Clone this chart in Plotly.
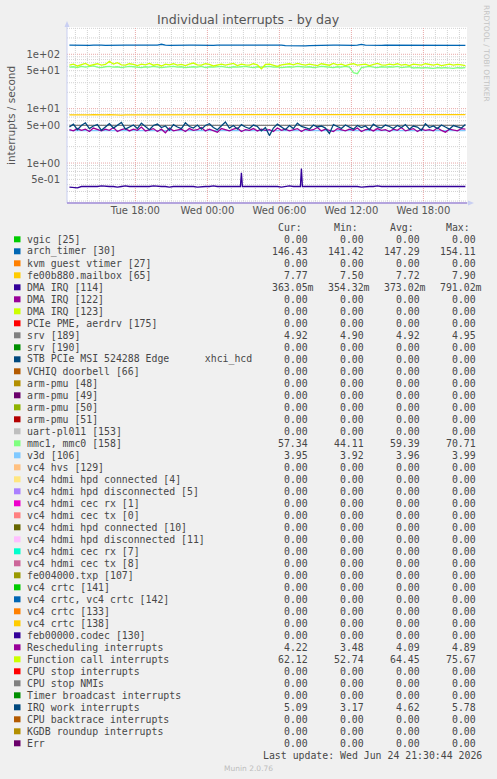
import math
import plotly.graph_objects as go
from datetime import datetime, timedelta

# ---------------- data ----------------
start_time = datetime(2026, 6, 23, 12, 30)
n_points = 100
times = [start_time + timedelta(minutes=20 * i) for i in range(n_points)]

x_range = ["2026-06-23 12:18", "2026-06-24 21:38"]
x_tick_vals = ["2026-06-23 18:00", "2026-06-24 00:00", "2026-06-24 06:00",
               "2026-06-24 12:00", "2026-06-24 18:00"]
x_tick_text = ["Tue 18:00", "Wed 00:00", "Wed 06:00", "Wed 12:00", "Wed 18:00"]

y_tick_vals = [0.5, 1, 5, 10, 50, 100]
y_tick_text = ["5e-01", "1e+00", "5e+00", "1e+01", "5e+01", "1e+02"]

arch_timer = [147, 146, 148, 147, 147, 146, 147, 149, 147, 146,
              147, 148, 147, 146, 147, 147, 148, 146, 147, 147,
              147, 146, 148, 153, 147, 146, 147, 147, 146, 148,
              147, 147, 146, 147, 148, 147, 146, 147, 147, 147,
              148, 147, 146, 147, 147, 149, 147, 146, 147, 147,
              147, 148, 146, 147, 144, 143, 144, 143, 144, 143,
              144, 145, 147, 146, 147, 148, 147, 147, 146, 147,
              147, 146, 147, 152, 147, 146, 147, 147, 146, 147,
              147, 148, 147, 147, 146, 147, 147, 148, 147, 146,
              147, 147, 146, 147, 147, 148, 147, 146, 147, 146]

mailbox = [7.7, 7.8, 7.7, 7.7, 7.6, 7.7, 7.8, 7.7, 7.7, 7.7,
           7.8, 7.7, 7.7, 7.6, 7.7, 7.7, 7.8, 7.7, 7.7, 7.7,
           7.7, 7.8, 7.7, 7.7, 7.7, 7.6, 7.7, 7.7, 7.8, 7.7,
           7.7, 7.7, 7.7, 7.8, 7.7, 7.7, 7.6, 7.7, 7.7, 7.7,
           7.8, 7.7, 7.7, 7.7, 7.7, 7.7, 7.8, 7.7, 7.6, 7.7,
           7.7, 7.7, 7.8, 7.7, 7.7, 7.7, 7.7, 7.6, 7.7, 7.8,
           7.7, 7.7, 7.7, 7.7, 7.8, 7.7, 7.7, 7.6, 7.7, 7.7,
           7.7, 7.8, 7.7, 7.7, 7.7, 7.7, 7.8, 7.7, 7.7, 7.7,
           7.8, 7.7, 7.7, 7.7, 7.8, 7.7, 7.7, 7.7, 7.8, 7.7,
           7.7, 7.8, 7.7, 7.7, 7.8, 7.7, 7.8, 7.8, 7.7, 7.8]

dma_114 = [0.36, 0.36, 0.35, 0.37, 0.37, 0.36, 0.37, 0.37, 0.38, 0.37,
           0.37, 0.37, 0.36, 0.37, 0.38, 0.37, 0.37, 0.37, 0.36, 0.37,
           0.37, 0.38, 0.37, 0.37, 0.37, 0.36, 0.37, 0.37, 0.37, 0.38,
           0.37, 0.37, 0.36, 0.37, 0.37, 0.37, 0.38, 0.37, 0.37, 0.37,
           0.36, 0.37, 0.37, 0.66, 0.37, 0.37, 0.38, 0.37, 0.37, 0.37,
           0.38, 0.37, 0.37, 0.36, 0.37, 0.38, 0.37, 0.37, 0.79, 0.37,
           0.37, 0.38, 0.37, 0.37, 0.37, 0.38, 0.37, 0.37, 0.37, 0.37,
           0.38, 0.37, 0.37, 0.36, 0.37, 0.37, 0.37, 0.38, 0.37, 0.37,
           0.37, 0.37, 0.38, 0.37, 0.37, 0.37, 0.37, 0.37, 0.38, 0.37,
           0.37, 0.37, 0.37, 0.38, 0.37, 0.37, 0.37, 0.38, 0.37, 0.37]
dma_extra_times = [datetime(2026, 6, 24, 2, 45), datetime(2026, 6, 24, 2, 55),
                   datetime(2026, 6, 24, 7, 45), datetime(2026, 6, 24, 7, 55)]
dma_extra_vals = [0.37, 0.37, 0.37, 0.37]

srv_189 = [4.92, 4.92, 4.93, 4.92, 4.92, 4.91, 4.92, 4.92, 4.93, 4.92,
           4.92, 4.92, 4.92, 4.93, 4.92, 4.92, 4.91, 4.92, 4.92, 4.92,
           4.93, 4.92, 4.92, 4.92, 4.92, 4.92, 4.93, 4.92, 4.92, 4.91,
           4.92, 4.92, 4.92, 4.93, 4.92, 4.92, 4.92, 4.92, 4.94, 4.92,
           4.92, 4.92, 4.91, 4.92, 4.92, 4.93, 4.92, 4.92, 4.92, 4.92,
           4.92, 4.93, 4.92, 4.92, 4.92, 4.91, 4.92, 4.92, 4.93, 4.92,
           4.92, 4.92, 4.92, 4.92, 4.93, 4.92, 4.92, 4.92, 4.91, 4.92,
           4.92, 4.93, 4.92, 4.92, 4.92, 4.92, 4.92, 4.93, 4.92, 4.92,
           4.91, 4.92, 4.92, 4.92, 4.93, 4.92, 4.92, 4.92, 4.92, 4.92,
           4.93, 4.92, 4.92, 4.91, 4.92, 4.92, 4.92, 4.93, 4.92, 4.92]

mmc = [58, 59, 57, 60, 58, 59, 61, 58, 57, 59,
       60, 58, 59, 57, 58, 60, 59, 58, 57, 59,
       58, 60, 59, 57, 58, 59, 60, 58, 59, 57,
       58, 59, 58, 60, 57, 59, 58, 59, 60, 58,
       57, 59, 58, 59, 60, 58, 57, 59, 58, 59,
       60, 58, 59, 57, 58, 59, 58, 60, 59, 58,
       59, 57, 58, 60, 59, 58, 57, 59, 58, 60,
       58, 46, 44, 57, 59, 60, 58, 57, 59, 58,
       59, 58, 60, 57, 58, 59, 56, 57, 56, 57,
       56, 55, 57, 56, 57, 56, 55, 57, 56, 57]

v3d = [3.96, 3.96, 3.95, 3.96, 3.96, 3.97, 3.96, 3.96, 3.95, 3.96,
       3.96, 3.96, 3.97, 3.96, 3.96, 3.95, 3.96, 3.96, 3.96, 3.97,
       3.96, 3.96, 3.95, 3.96, 3.96, 3.96, 3.96, 3.97, 3.96, 3.96,
       3.95, 3.96, 3.96, 3.96, 3.97, 3.96, 3.96, 3.95, 3.96, 3.96,
       3.96, 3.97, 3.96, 3.96, 3.95, 3.96, 3.96, 3.96, 3.97, 3.96,
       3.96, 3.95, 3.96, 3.96, 3.96, 3.97, 3.96, 3.96, 3.95, 3.96,
       3.96, 3.96, 3.97, 3.96, 3.96, 3.95, 3.96, 3.96, 3.96, 3.97,
       3.96, 3.96, 3.95, 3.96, 3.96, 3.96, 3.97, 3.96, 3.96, 3.95,
       3.96, 3.96, 3.96, 3.97, 3.96, 3.96, 3.95, 3.96, 3.96, 3.96,
       3.97, 3.96, 3.96, 3.95, 3.96, 3.96, 3.96, 3.97, 3.96, 3.95]

rescheduling = [4.1, 3.9, 4.3, 4.0, 4.2, 3.8, 4.4, 4.1, 3.9, 4.2,
                4.0, 4.5, 3.8, 4.1, 4.3, 3.9, 4.2, 4.0, 4.6, 3.9,
                4.1, 4.3, 3.8, 4.2, 3.6, 4.4, 3.9, 4.1, 4.2, 3.8,
                4.3, 4.0, 4.1, 4.5, 3.9, 4.2, 4.0, 3.7, 4.3, 4.1,
                3.9, 4.2, 4.4, 3.8, 4.1, 4.0, 4.3, 3.9, 4.2, 4.0,
                4.1, 3.8, 4.4, 4.0, 4.2, 3.9, 4.1, 4.3, 3.8, 4.2,
                4.0, 4.1, 4.5, 3.9, 4.2, 4.0, 3.8, 4.3, 4.1, 3.9,
                4.2, 4.0, 4.4, 3.8, 4.1, 4.2, 3.9, 4.3, 4.0, 4.1,
                3.8, 4.2, 4.0, 4.5, 3.9, 4.1, 4.3, 3.8, 4.2, 4.0,
                4.1, 3.9, 4.4, 4.0, 3.7, 4.2, 4.1, 3.9, 4.3, 4.2]

function_call = [63, 66, 61, 65, 68, 62, 64, 67, 63, 65,
                 74, 66, 70, 64, 63, 67, 65, 62, 66, 64,
                 68, 63, 65, 61, 66, 64, 67, 63, 65, 62,
                 66, 69, 64, 63, 67, 65, 61, 64, 66, 63,
                 65, 68, 62, 66, 64, 63, 67, 64, 54, 65,
                 66, 63, 60, 64, 66, 67, 64, 68, 65, 63,
                 66, 64, 62, 67, 65, 63, 68, 64, 66, 62,
                 65, 67, 63, 64, 66, 62, 65, 68, 64, 63,
                 66, 64, 67, 63, 65, 62, 66, 64, 63, 67,
                 65, 63, 66, 62, 64, 66, 63, 65, 64, 62]

irq_work = [4.6, 5.2, 4.1, 4.9, 5.5, 4.3, 4.8, 5.1, 4.0, 4.7,
            5.3, 4.4, 4.9, 5.6, 4.2, 4.6, 5.0, 4.3, 5.4, 4.7,
            4.1, 4.9, 5.2, 4.5, 4.8, 4.0, 5.1, 4.6, 4.3, 5.5,
            4.7, 4.4, 5.0, 4.2, 4.9, 5.3, 4.5, 4.1, 4.8, 5.7,
            4.4, 4.9, 4.2, 5.1, 4.6, 4.3, 5.0, 4.7, 3.9, 4.5,
            3.2, 4.4, 5.2, 4.6, 4.1, 4.9, 4.3, 5.4, 4.7, 4.5,
            4.2, 5.0, 4.6, 4.8, 4.4, 3.5, 5.1, 4.7, 4.3, 5.0,
            4.6, 4.2, 4.9, 4.5, 4.8, 4.1, 5.2, 4.6, 4.4, 5.0,
            4.7, 4.3, 4.9, 4.5, 5.1, 4.2, 4.8, 4.6, 4.0, 5.3,
            4.5, 4.8, 4.3, 5.0, 4.6, 4.2, 4.9, 4.7, 4.4, 5.1]

# legend table
legend_names = [
    "vgic [25]", "arch_timer [30]", "kvm guest vtimer [27]", "fe00b880.mailbox [65]",
    "DMA IRQ [114]", "DMA IRQ [122]", "DMA IRQ [123]", "PCIe PME, aerdrv [175]",
    "srv [189]", "srv [190]", "STB PCIe MSI 524288 Edge      xhci_hcd",
    "VCHIQ doorbell [66]", "arm-pmu [48]", "arm-pmu [49]", "arm-pmu [50]",
    "arm-pmu [51]", "uart-pl011 [153]", "mmc1, mmc0 [158]", "v3d [106]",
    "vc4 hvs [129]", "vc4 hdmi hpd connected [4]", "vc4 hdmi hpd disconnected [5]",
    "vc4 hdmi cec rx [1]", "vc4 hdmi cec tx [0]", "vc4 hdmi hpd connected [10]",
    "vc4 hdmi hpd disconnected [11]", "vc4 hdmi cec rx [7]", "vc4 hdmi cec tx [8]",
    "fe004000.txp [107]", "vc4 crtc [141]", "vc4 crtc, vc4 crtc [142]",
    "vc4 crtc [133]", "vc4 crtc [138]", "feb00000.codec [130]",
    "Rescheduling interrupts", "Function call interrupts", "CPU stop interrupts",
    "CPU stop NMIs", "Timer broadcast interrupts", "IRQ work interrupts",
    "CPU backtrace interrupts", "KGDB roundup interrupts", "Err"]
legend_colors = [
    "#00CC00", "#0066B3", "#FF8000", "#FFCC00", "#330099", "#990099", "#CCFF00",
    "#FF0000", "#808080", "#008F00", "#00487D", "#B35A00", "#B38F00", "#6B006B",
    "#8FB300", "#B30000", "#BEBEBE", "#80FF80", "#80C9FF", "#FFC080", "#FFE680",
    "#AA80FF", "#EE00CC", "#FF8080", "#666600", "#FFBFFF", "#00FFCC", "#CC6699",
    "#999900", "#00CC00", "#0066B3", "#FF8000", "#FFCC00", "#330099", "#990099",
    "#CCFF00", "#FF0000", "#808080", "#008F00", "#00487D", "#B35A00", "#B38F00",
    "#6B006B"]
Z = "0.00"
cur_vals = [Z, "146.43", Z, "7.77", "363.05m", Z, Z, Z, "4.92", Z, Z, Z, Z, Z, Z, Z, Z,
            "57.34", "3.95", Z, Z, Z, Z, Z, Z, Z, Z, Z, Z, Z, Z, Z, Z, Z,
            "4.22", "62.12", Z, Z, Z, "5.09", Z, Z, Z]
min_vals = [Z, "141.42", Z, "7.50", "354.32m", Z, Z, Z, "4.90", Z, Z, Z, Z, Z, Z, Z, Z,
            "44.11", "3.92", Z, Z, Z, Z, Z, Z, Z, Z, Z, Z, Z, Z, Z, Z, Z,
            "3.48", "52.74", Z, Z, Z, "3.17", Z, Z, Z]
avg_vals = [Z, "147.29", Z, "7.72", "373.02m", Z, Z, Z, "4.92", Z, Z, Z, Z, Z, Z, Z, Z,
            "59.39", "3.96", Z, Z, Z, Z, Z, Z, Z, Z, Z, Z, Z, Z, Z, Z, Z,
            "4.09", "64.45", Z, Z, Z, "4.62", Z, Z, Z]
max_vals = [Z, "154.11", Z, "7.90", "791.02m", Z, Z, Z, "4.95", Z, Z, Z, Z, Z, Z, Z, Z,
            "70.71", "3.99", Z, Z, Z, Z, Z, Z, Z, Z, Z, Z, Z, Z, Z, Z, Z,
            "4.89", "75.67", Z, Z, Z, "5.78", Z, Z, Z]
column_headers = ["Cur:", "Min:", "Avg:", "Max:"]

title_text = "Individual interrupts - by day"
y_title = "interrupts / second"
last_update = "Last update: Wed Jun 24 21:30:44 2026"
footer = "Munin 2.0.76"
watermark = "RRDTOOL / TOBI OETIKER"

# ---------------- layout geometry ----------------
W, H = 497, 779
PL, PR, PT, PB = 67, 467, 27, 203
Y_LOG_RANGE = [-0.735, 2.502]


def fx(p):
    return (p - PL) / (PR - PL)


def fy(p):
    return (PB - p) / (PB - PT)


fig = go.Figure()

dma_pairs = sorted(list(zip(times, dma_114)) + list(zip(dma_extra_times, dma_extra_vals)))
series = [
    ("arch_timer [30]", times, arch_timer, "#0066B3"),
    ("fe00b880.mailbox [65]", times, mailbox, "#FFCC00"),
    ("DMA IRQ [114]", [p[0] for p in dma_pairs], [p[1] for p in dma_pairs], "#330099"),
    ("srv [189]", times, srv_189, "#808080"),
    ("mmc1, mmc0 [158]", times, mmc, "#80FF80"),
    ("v3d [106]", times, v3d, "#80C9FF"),
    ("Rescheduling interrupts", times, rescheduling, "#990099"),
    ("Function call interrupts", times, function_call, "#CCFF00"),
    ("IRQ work interrupts", times, irq_work, "#00487D"),
]
for name, xs, ys, col in series:
    fig.add_trace(go.Scatter(x=xs, y=ys, mode="lines", name=name,
                             line=dict(color=col, width=1.3), hoverinfo="skip"))

shapes = []
GRID = "#D2D2D2"
MGRID = "#E8A8A8"
DASH = "1px,1px"
for d in range(-1, 3):
    for m in range(1, 10):
        lv = math.log10(m * 10 ** d)
        if Y_LOG_RANGE[0] < lv < Y_LOG_RANGE[1]:
            yp = (lv - Y_LOG_RANGE[0]) / (Y_LOG_RANGE[1] - Y_LOG_RANGE[0])
            shapes.append(dict(type="line", xref="paper", yref="paper",
                               x0=0, x1=1, y0=yp, y1=yp,
                               line=dict(color=MGRID if m == 1 else GRID, width=1, dash=DASH),
                               layer="below"))
t = datetime(2026, 6, 23, 13, 0)
t_end = datetime(2026, 6, 24, 21, 38)
while t < t_end:
    shapes.append(dict(type="line", xref="x", yref="paper", x0=t, x1=t, y0=0, y1=1,
                       line=dict(color=MGRID if t.hour % 6 == 0 else GRID, width=1, dash=DASH),
                       layer="below"))
    t += timedelta(hours=1)

AXC = "#C9CFF2"
shapes.append(dict(type="line", xref="paper", yref="paper", x0=fx(PL), x1=fx(PL),
                   y0=0, y1=fy(24), line=dict(color=AXC, width=1)))
shapes.append(dict(type="path", xref="paper", yref="paper",
                   path=f"M {fx(64.5)} {fy(27)} L {fx(69.5)} {fy(27)} L {fx(67)} {fy(21)} Z",
                   fillcolor=AXC, line=dict(width=0)))
shapes.append(dict(type="line", xref="paper", yref="paper", x0=0, x1=fx(470),
                   y0=0, y1=0, line=dict(color=AXC, width=1)))
shapes.append(dict(type="line", xref="paper", yref="paper", x0=0, x1=1,
                   y0=0, y1=0, line=dict(color="#A58FD6", width=1.5)))
shapes.append(dict(type="path", xref="paper", yref="paper",
                   path=f"M {fx(468)} {fy(200.5)} L {fx(468)} {fy(205.5)} L {fx(474)} {fy(203)} Z",
                   fillcolor=AXC, line=dict(width=0)))

annotations = []
TXT = "#555555"
LEG = "#474747"
SANS = "DejaVu Sans"
MONO = "DejaVu Sans Mono"

annotations.append(dict(text=title_text, xref="paper", yref="paper", x=fx(248.5), y=fy(19),
                        showarrow=False, xanchor="center", yanchor="middle",
                        font=dict(family=SANS, size=12.6, color=TXT)))
annotations.append(dict(text=y_title, xref="paper", yref="paper", x=fx(11), y=fy(115),
                        showarrow=False, xanchor="center", yanchor="middle", textangle=-90,
                        font=dict(family=SANS, size=10.5, color=TXT)))
annotations.append(dict(text=watermark, xref="paper", yref="paper", x=fx(487), y=fy(53),
                        showarrow=False, xanchor="center", yanchor="middle", textangle=90,
                        font=dict(family=SANS, size=7.5, color="#C4C4C4")))

CW = 5.93
ROW0 = 239.3
ROWH = 12.0
col_ends = [309.3, 365.0, 420.7, 476.7]
for j, h in enumerate(column_headers):
    annotations.append(dict(text=h, xref="paper", yref="paper", x=fx(col_ends[j] - 5.0),
                            y=fy(227.3), showarrow=False, xanchor="right", yanchor="middle",
                            font=dict(family=MONO, size=9.85, color=LEG)))
for k, name in enumerate(legend_names):
    yy = ROW0 + ROWH * k
    shapes.append(dict(type="rect", xref="paper", yref="paper",
                       x0=fx(14), x1=fx(20.5), y0=fy(yy + 3), y1=fy(yy - 3),
                       fillcolor=legend_colors[k], line=dict(width=0)))
    annotations.append(dict(text=name.replace(" ", "\u00a0"), xref="paper", yref="paper",
                            x=fx(25), y=fy(yy), showarrow=False, xanchor="left",
                            yanchor="middle", font=dict(family=MONO, size=9.85, color=LEG)))
    for j, vals in enumerate([cur_vals, min_vals, avg_vals, max_vals]):
        s = vals[k]
        xe = col_ends[j] + (CW if s.endswith("m") else 0)
        annotations.append(dict(text=s, xref="paper", yref="paper", x=fx(xe + 1), y=fy(yy),
                                showarrow=False, xanchor="right", yanchor="middle",
                                font=dict(family=MONO, size=9.85, color=LEG)))
annotations.append(dict(text=last_update.replace(" ", "\u00a0"), xref="paper", yref="paper",
                        x=fx(484), y=fy(755), showarrow=False, xanchor="right",
                        yanchor="middle", font=dict(family=MONO, size=9.85, color=LEG)))
annotations.append(dict(text=footer, xref="paper", yref="paper", x=fx(248), y=fy(768.5),
                        showarrow=False, xanchor="center", yanchor="middle",
                        font=dict(family=SANS, size=7.5, color="#BDBDBD")))

fig.update_layout(
    width=W, height=H,
    margin=dict(l=PL, r=W - PR, t=PT, b=H - PB, pad=0),
    paper_bgcolor="#F0F0F0", plot_bgcolor="#FFFFFF",
    showlegend=False,
    shapes=shapes, annotations=annotations,
    xaxis=dict(type="date", range=x_range, tickmode="array", tickvals=x_tick_vals,
               ticktext=x_tick_text, showgrid=False, zeroline=False, showline=False,
               ticks="", tickfont=dict(family=SANS, size=10, color=TXT), fixedrange=True),
    yaxis=dict(type="log", range=Y_LOG_RANGE, tickmode="array", tickvals=y_tick_vals,
               ticktext=y_tick_text, showgrid=False, zeroline=False, showline=False,
               ticks="outside", ticklen=4, tickcolor="rgba(0,0,0,0)",
               tickfont=dict(family=SANS, size=10, color=TXT), fixedrange=True),
)

fig.write_html(
    "out.html",
    config={"displayModeBar": False},
    post_script="document.body.style.margin='0';document.body.style.padding='0';"
                "document.body.style.background='#F0F0F0';"
                "document.documentElement.style.overflow='hidden';",
)
